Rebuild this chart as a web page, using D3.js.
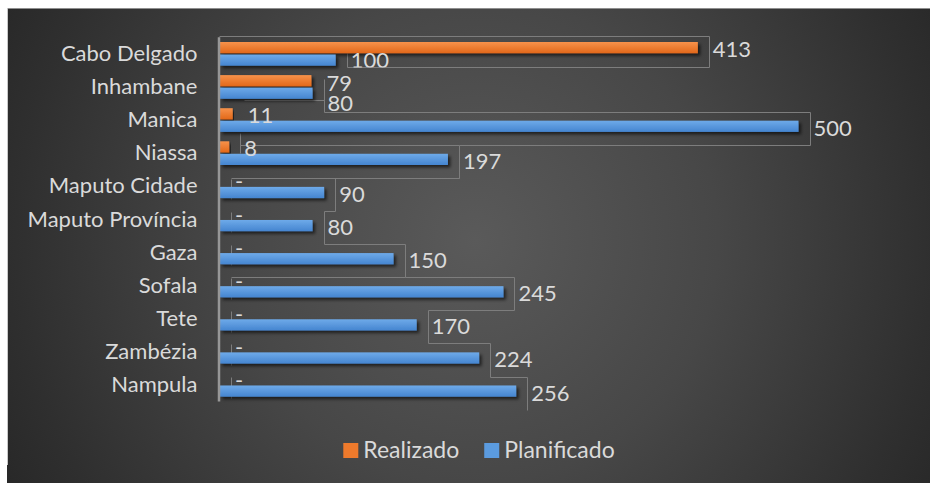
<!DOCTYPE html>
<html>
<head>
<meta charset="utf-8">
<script src="https://cdn.jsdelivr.net/npm/d3@7"></script>
<style>
  html, body { margin: 0; padding: 0; background: #ffffff; }
  svg { display: block; }
  text { font-family: Lato, "Open Sans", sans-serif; }
</style>
</head>
<body>
<svg id="chart" width="930" height="483"></svg>
<script>
// Provinces, top to bottom
const categories = [
  "Cabo Delgado", "Inhambane", "Manica", "Niassa", "Maputo Cidade",
  "Maputo Província", "Gaza", "Sofala", "Tete", "Zambézia", "Nampula"
];
// Series values per province
const realizado   = [413, 79, 11, 8, 0, 0, 0, 0, 0, 0, 0];
const planificado = [100, 80, 500, 197, 90, 80, 150, 245, 170, 224, 256];
const seriesNames = ["Realizado", "Planificado"];
const xDomain = [0, 500];

const colors = {
  Realizado:   { top: "#f7924a", bottom: "#e2681a", flat: "#ee7a2c" },
  Planificado: { top: "#6eaae9", bottom: "#4585d0", flat: "#5b9bdf" }
};
const textColor = "#dadada";
const frameColor = "#7d7d7d";

const W = 930, H = 483;
const svg = d3.select("#chart");
const defs = svg.append("defs");

// chart area background: soft radial light in the middle
const bg = defs.append("radialGradient")
  .attr("id", "bgGrad")
  .attr("gradientUnits", "userSpaceOnUse")
  .attr("cx", 475).attr("cy", 240).attr("r", 540);
[[0, "#5a5a5a"], [0.45, "#474747"], [0.85, "#2f2f2f"], [1, "#272727"]]
  .forEach(([o, c]) => bg.append("stop").attr("offset", o).attr("stop-color", c));

seriesNames.forEach(s => {
  const g = defs.append("linearGradient")
    .attr("id", "grad-" + s).attr("x1", 0).attr("y1", 0).attr("x2", 0).attr("y2", 1);
  g.append("stop").attr("offset", 0).attr("stop-color", colors[s].top);
  g.append("stop").attr("offset", 1).attr("stop-color", colors[s].bottom);
});

const shadow = defs.append("filter").attr("id", "barShadow")
  .attr("x", "-5%").attr("y", "-50%").attr("width", "115%").attr("height", "250%");
shadow.append("feDropShadow")
  .attr("dx", 2.5).attr("dy", 2.5).attr("stdDeviation", 1.6)
  .attr("flood-color", "#000").attr("flood-opacity", 0.6);

// background panel
svg.append("rect")
  .attr("x", 7).attr("y", 8).attr("width", W - 7).attr("height", H - 8)
  .attr("fill", "url(#bgGrad)");
svg.append("line")
  .attr("x1", 7).attr("x2", W).attr("y1", 8.5).attr("y2", 8.5)
  .attr("stroke", "#8e8e8e").attr("stroke-width", 1);
svg.append("line")
  .attr("x1", 7.5).attr("x2", 7.5).attr("y1", 8).attr("y2", 465)
  .attr("stroke", "#c9c9c9").attr("stroke-width", 1);

// scales
const x = d3.scaleLinear().domain(xDomain).range([220, 798.5]);
const y = d3.scaleBand().domain(categories).range([36.8, 400.9]);
const ySub = d3.scaleBand().domain(seriesNames).range([5.2, 28.9]).paddingInner(0.1);

const rows = categories.map((c, i) => ({
  cat: c, i,
  Realizado: realizado[i],
  Planificado: planificado[i]
}));

const edge = v => x(v) + 11;          // frame edge just past the bar end
const band = c => y(c);
const slotTop = c => y(c) + 8.75;     // label slot for the Planificado value
const slotBottom = c => y(c) + y.step() + 8.75;
const px = v => Math.round(v) + 0.5;

// label frames
const frames = svg.append("g").attr("fill", "none")
  .attr("stroke", frameColor).attr("stroke-width", 1);

const r0 = rows[0];
const topFrameBottom = px(band(r0.cat) + 30.2);
frames.append("path").attr("d", [
  "M", px(edge(r0.Planificado)), px(band(r0.cat) + 16.2),
  "V", topFrameBottom,
  "H", px(edge(r0.Realizado)),
  "V", px(band(r0.cat) - 0.8),
  "H", px(x(0) - 1)
].join(" "));

// stepped outline along the Planificado label slots
const stepped = d3.path();
rows.slice(1).forEach((r, k) => {
  const xe = px(edge(r.Planificado));
  if (k === 0) stepped.moveTo(xe, px(slotTop(r.cat)));
  else stepped.lineTo(xe, px(slotTop(r.cat)));
  stepped.lineTo(xe, px(slotBottom(r.cat)));
});
frames.append("path").attr("d", stepped.toString());

// Realizado label frames on the lower rows
const manica = rows[2];
frames.append("path").attr("d", [
  "M", px(edge(manica.Realizado)), px(band(manica.cat) - 3),
  "H", px(edge(rows[1].Planificado))
].join(" "));

const niassa = rows[3];
frames.append("path").attr("d", [
  "M", px(edge(niassa.Realizado)), px(band(niassa.cat) - 3),
  "V", px(band(niassa.cat) + 17),
  "M", px(edge(niassa.Realizado)), px(slotTop(niassa.cat)),
  "H", px(edge(niassa.Planificado))
].join(" "));

const joinRows = ["Maputo Cidade", "Sofala"];
rows.slice(4).forEach(r => {
  const xe = px(edge(r.Realizado));
  let d = ["M", xe, px(band(r.cat) + 9.5), "V", px(band(r.cat) + 30)];
  if (joinRows.includes(r.cat)) {
    const prev = rows[r.i - 1];
    d = d.concat(["M", xe, px(slotTop(r.cat)), "H", px(edge(prev.Planificado))]);
  }
  frames.append("path").attr("d", d.join(" "));
});

// bars
const bars = svg.append("g");
rows.forEach(r => {
  seriesNames.forEach(s => {
    if (r[s] <= 0) return;
    bars.append("rect")
      .attr("x", x(0))
      .attr("y", band(r.cat) + ySub(s))
      .attr("width", x(r[s]) - x(0))
      .attr("height", ySub.bandwidth())
      .attr("fill", "url(#grad-" + s + ")")
      .attr("filter", "url(#barShadow)");
  });
});

// category axis
const axis = svg.append("g")
  .attr("transform", "translate(218.5,0)")
  .call(d3.axisLeft(y).tickSize(0).tickPadding(21));
axis.select(".domain").attr("stroke", "#979797").attr("stroke-width", 2.5);
axis.selectAll("text")
  .attr("fill", textColor)
  .style("font-size", "22px")
  .attr("dy", "0.35em");

// the first Planificado label sits under the top frame and is cut at its edge
defs.append("clipPath").attr("id", "topFrameClip")
  .append("rect").attr("x", 0).attr("y", 0).attr("width", W).attr("height", topFrameBottom);

// value labels
const labelNudge = {
  "Cabo Delgado": { Planificado: -1.5 },
  "Inhambane": { Realizado: 1, Planificado: 8 }
};
const labels = svg.append("g").attr("fill", textColor).style("font-size", "22px");
rows.forEach(r => {
  seriesNames.forEach(s => {
    const v = r[s];
    const nudge = (labelNudge[r.cat] || {})[s] || 0;
    const cy = band(r.cat) + ySub(s) + ySub.bandwidth() / 2 + 1.5 + nudge;
    const t = labels.append("text")
      .attr("x", edge(v) + 4)
      .attr("y", cy)
      .attr("dy", "0.36em")
      .text(v === 0 ? "-" : d3.format("d")(v));
    if (r.i === 0 && s === "Planificado") t.attr("clip-path", "url(#topFrameClip)");
  });
});

// legend
const legend = svg.append("g").style("font-size", "23px");
let lx = 0;
seriesNames.forEach(s => {
  const g = legend.append("g");
  g.append("rect").attr("x", 0).attr("y", -15).attr("width", 15).attr("height", 15)
    .attr("fill", colors[s].flat);
  const t = g.append("text").attr("x", 20).attr("y", 0).attr("dy", "-0.5px")
    .attr("fill", textColor).text(s);
  const w = 20 + t.node().getComputedTextLength();
  g.attr("transform", `translate(${lx},0)`);
  lx += w + 25;
});
const legendWidth = lx - 25;
legend.attr("transform", `translate(${479 - legendWidth / 2},458)`);
</script>
</body>
</html>
